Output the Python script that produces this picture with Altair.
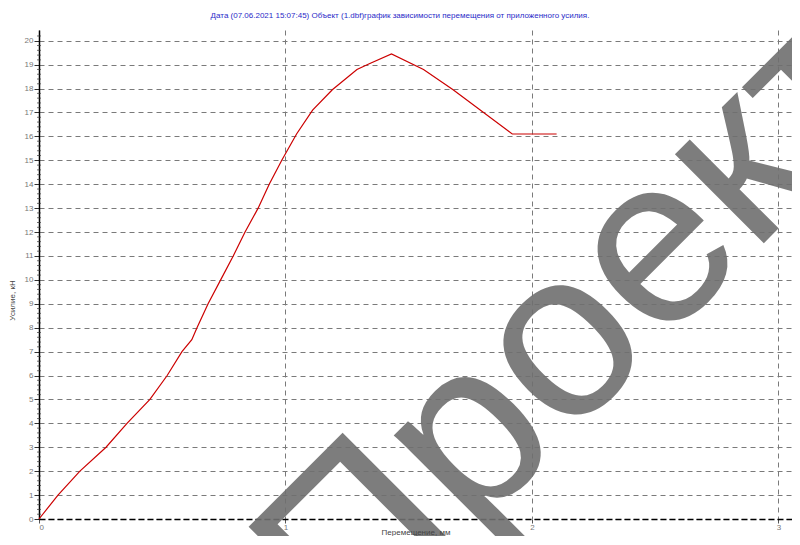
import altair as alt
import pandas as pd

# Data
disp = [0, 0.077, 0.166, 0.272, 0.357, 0.45, 0.52, 0.58, 0.62, 0.641, 0.686, 0.737,
        0.788, 0.836, 0.889, 0.934, 0.985, 1.045, 1.11, 1.19, 1.29, 1.34, 1.43,
        1.56, 1.68, 1.92, 2.10]
force = [0, 1, 2, 3, 4, 5, 6, 7, 7.5, 8, 9, 10, 11, 12, 13, 14, 15, 16.1, 17.1,
         17.95, 18.8, 19.04, 19.45, 18.8, 17.95, 16.1, 16.1]
y_ticks = list(range(0, 21))
x_ticks = [0, 1, 2, 3]
minor_y = [round(i * 0.2, 1) for i in range(0, 102) if abs(i * 0.2 - round(i * 0.2)) > 1e-6]

title_text = "Дата (07.06.2021 15:07:45) Объект (1.dbf)график зависимости перемещения от приложенного усилия."
x_title = "Перемещение, мм"
y_title = "Усилие, кН"
watermark = "Проект"

df = pd.DataFrame({"x": disp, "y": force})
minor_df = pd.DataFrame({"m": minor_y})

W, H = 753, 489
xs = alt.Scale(domain=[0, 3.055], nice=False, zero=False)
ys = alt.Scale(domain=[0, 20.45], nice=False)

x_axis = alt.Axis(values=x_ticks, format="d", labelOverlap=False, grid=True,
                  gridDash=[5, 4], gridColor="#7a7a7a", title=None,
                  gridOpacity=1, domainColor="#000", domainDash=[6, 3], domainWidth=1.5,
                  tickColor="#555", tickSize=4, labelColor="#777", labelFontSize=8,
                  labelFont="Liberation Sans", labelPadding=0)
y_axis = alt.Axis(values=y_ticks, format="d", labelOverlap=False, grid=True,
                  gridDash=[5, 4], gridColor="#7a7a7a",
                  gridOpacity=1, domainColor="#000", domainWidth=1.5,
                  tickColor="#333", tickSize=5, labelColor="#777", labelFontSize=8,
                  labelFont="Liberation Sans", titleFont="Liberation Sans",
                  titleFontSize=8, titleFontWeight="normal", titleColor="#444",
                  titlePadding=8, labelPadding=1, titleY=270)

line = alt.Chart(df).mark_line(color="#cc0000", strokeWidth=1.2).encode(
    x=alt.X("x:Q", scale=xs, axis=x_axis),
    y=alt.Y("y:Q", scale=ys, title=y_title, axis=y_axis),
    order=alt.Order("x:Q"),
)

minor = alt.Chart(minor_df).mark_tick(orient="horizontal", size=4, thickness=1, color="#333").encode(
    y=alt.Y("m:Q", scale=ys, title=y_title, axis=y_axis),
    x=alt.datum(0, scale=xs, axis=x_axis),
)

title = alt.Chart(pd.DataFrame({"t": [title_text]})).mark_text(
    fontSize=8, font="Liberation Sans", color="#2a2ac8", align="center", baseline="middle",
).encode(text="t:N", x=alt.value(361), y=alt.value(-14))

wm = alt.Chart(pd.DataFrame({"t": [watermark]})).mark_text(
    angle=315, fontSize=238, font="Liberation Sans", color="#707070", opacity=0.9,
    align="center", baseline="alphabetic",
).encode(text="t:N", x=alt.value(589), y=alt.value(349))

xt = alt.Chart(pd.DataFrame({"t": [x_title]})).mark_text(
    fontSize=8, font="Liberation Sans", color="#444", align="center", baseline="middle",
).encode(text="t:N", x=alt.value(377), y=alt.value(H + 14))

chart = alt.layer(line, minor, title, wm, xt).properties(
    width=W, height=H,
    autosize=alt.AutoSizeParams(type="none"),
    padding={"left": 31, "top": 22, "right": 0, "bottom": 17},
).configure_view(stroke=None)

chart.save("out.html", embed_options={"renderer": "svg", "actions": False})
